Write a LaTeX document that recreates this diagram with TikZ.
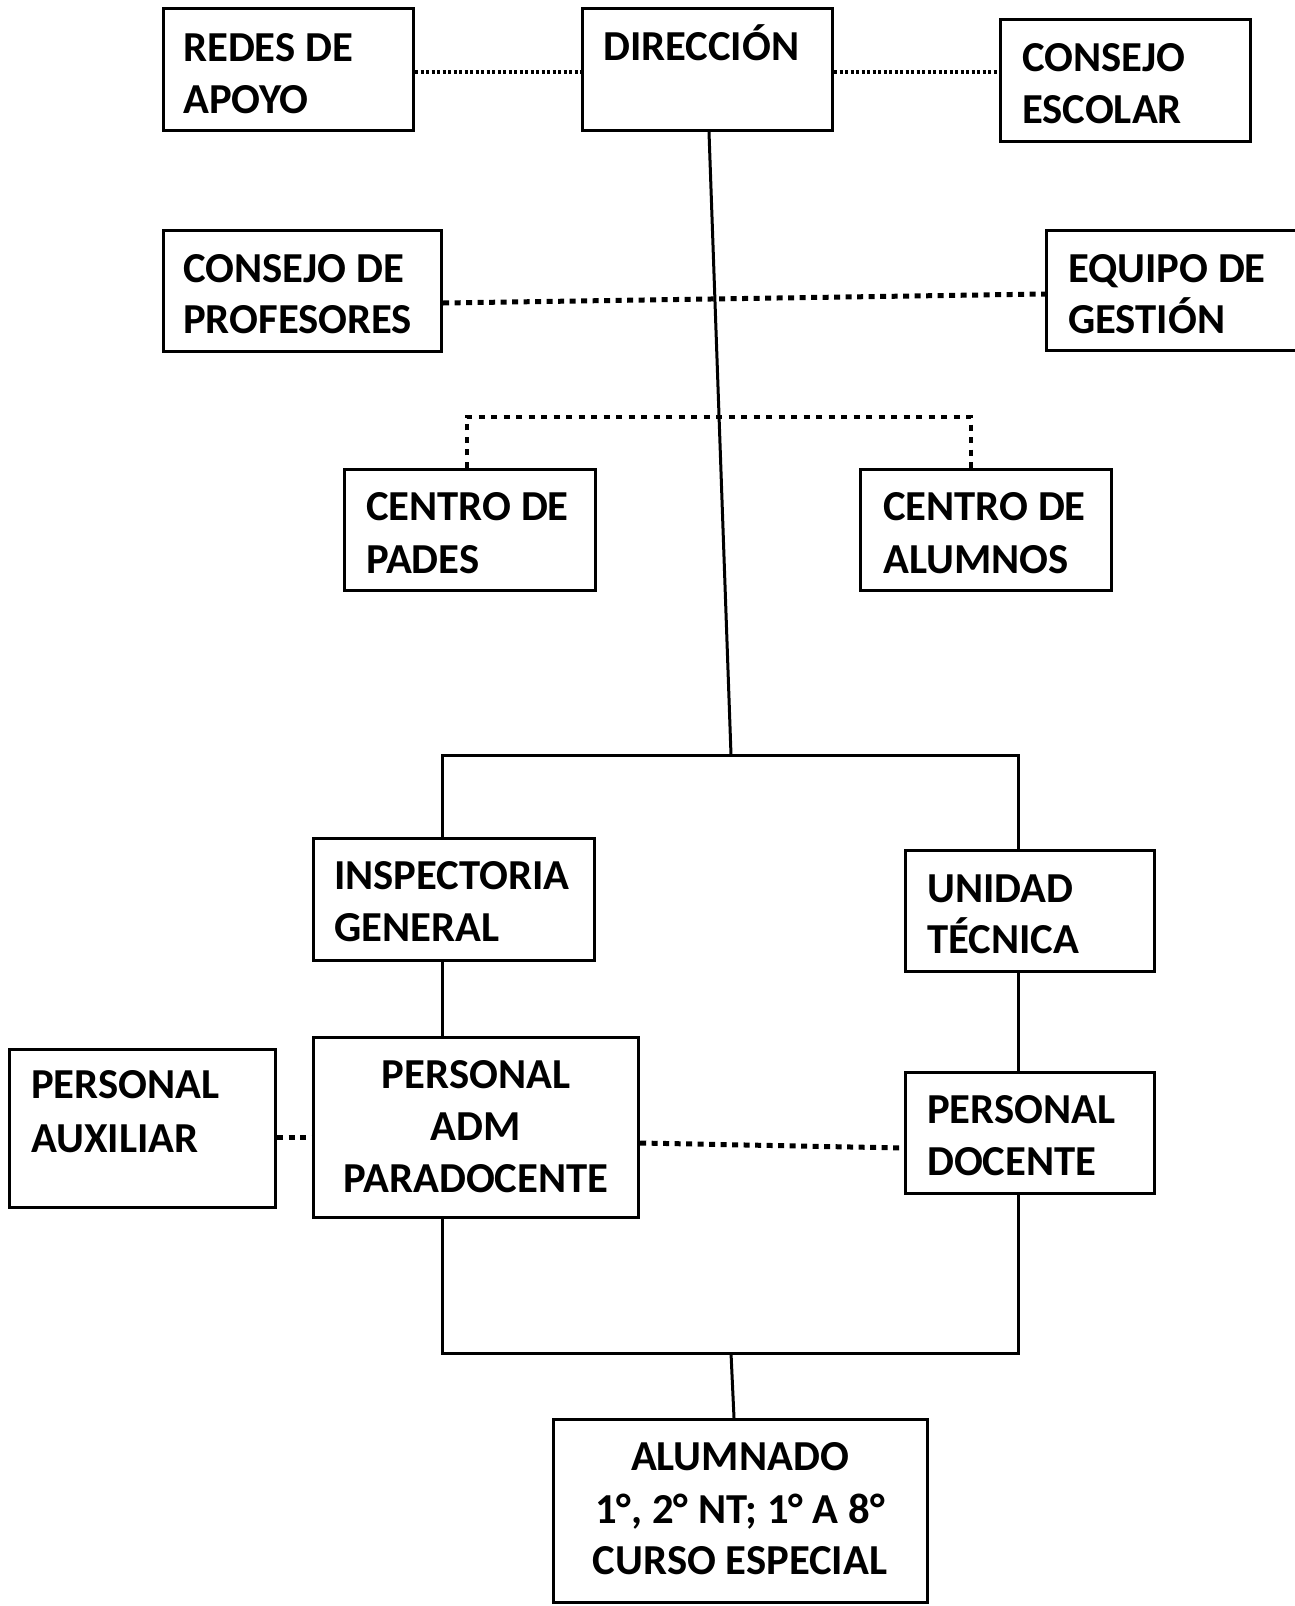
\documentclass[tikz,border=0pt]{standalone}
\usepackage{fontspec}
\setmainfont{Carlito}
\begin{document}
\begin{tikzpicture}[x=1pt,y=-1pt,
  box/.style={draw,line width=3.4pt,rectangle,inner sep=0pt},
  lbl/.style={anchor=base west,inner sep=0pt,font=\fontsize{42.7}{52}\selectfont\bfseries},
  clbl/.style={anchor=base,inner sep=0pt,font=\fontsize{42.7}{52}\selectfont\bfseries},
  link/.style={line width=3pt},
  dotthin/.style={line width=3.2pt,dash pattern=on 3pt off 2.5pt},
  dotthick/.style={line width=5pt,dash pattern=on 6pt off 5.5pt},
  dotbracket/.style={line width=4pt,dash pattern=on 6pt off 6.5pt}]
\useasboundingbox (0,0) rectangle (1295,1606);
\fill[white] (0,0) rectangle (1295,1606);

% boxes
\node[box,minimum width=250pt,minimum height=122pt] (redes) at (288.5,69.5) {};
\node[box,minimum width=250pt,minimum height=122pt] (dir) at (707.5,69.5) {};
\node[box,minimum width=250pt,minimum height=122pt] (escolar) at (1125.5,80.5) {};
\node[box,minimum width=278pt,minimum height=121pt] (prof) at (302.5,291) {};
\node[box,minimum width=273pt,minimum height=120pt] (equipo) at (1183,290.5) {};
\node[box,minimum width=251pt,minimum height=121pt] (padres) at (470,530) {};
\node[box,minimum width=251pt,minimum height=121pt] (alumnos) at (986,530) {};
\node[box,minimum width=281pt,minimum height=122pt] (insp) at (454,899.5) {};
\node[box,minimum width=249pt,minimum height=121pt] (unidad) at (1030,911) {};
\node[box,minimum width=266pt,minimum height=158pt] (aux) at (142.5,1128.5) {};
\node[box,minimum width=325pt,minimum height=180pt] (adm) at (476,1127.5) {};
\node[box,minimum width=249pt,minimum height=121pt] (docente) at (1030,1133) {};
\node[box,minimum width=374pt,minimum height=183pt] (alumnado) at (740.5,1511) {};

% texts
\node[lbl] (redes1) at (183,61) {REDES DE};
\node[lbl] (redes2) at (183,113) {APOYO};
\node[lbl] (dir1) at (603,60) {DIRECCIÓN};
\node[lbl] (esc1) at (1022,71) {CONSEJO};
\node[lbl] (esc2) at (1022,123) {ESCOLAR};
\node[lbl] (prof1) at (183,282) {CONSEJO DE};
\node[lbl] (prof2) at (183,333) {PROFESORES};
\node[lbl] (eq1) at (1068,282) {EQUIPO DE};
\node[lbl] (eq2) at (1068,333) {GESTIÓN};
\node[lbl] (pad1) at (366,520) {CENTRO DE};
\node[lbl] (pad2) at (366,573) {PADES};
\node[lbl] (alu1) at (883,520) {CENTRO DE};
\node[lbl] (alu2) at (883,573) {ALUMNOS};
\node[lbl] (insp1) at (334,889) {INSPECTORIA};
\node[lbl] (insp2) at (334,941) {GENERAL};
\node[lbl] (uni1) at (927,902) {UNIDAD};
\node[lbl] (uni2) at (927,953) {TÉCNICA};
\node[lbl] (aux1) at (31,1098) {PERSONAL};
\node[lbl] (aux2) at (31,1152) {AUXILIAR};
\node[clbl] (adm1) at (476,1088) {PERSONAL};
\node[clbl] (adm2) at (476,1140) {ADM};
\node[clbl] (adm3) at (476,1192) {PARADOCENTE};
\node[lbl] (doc1) at (927,1123) {PERSONAL};
\node[lbl] (doc2) at (927,1175) {DOCENTE};
\node[clbl] (al1) at (740,1470) {ALUMNADO};
\node[clbl] (al2) at (740,1523) {1°, 2° NT; 1° A 8°};
\node[clbl] (al3) at (740,1574) {CURSO ESPECIAL};

% junction coordinates
\coordinate (tj) at (731,755);
\coordinate (tl) at (442,755);
\coordinate (tr) at (1018,755);
\coordinate (bl) at (442,1353);
\coordinate (br) at (1018,1353);
\coordinate (bj) at (731,1353);
\coordinate (kl) at (467,417);
\coordinate (kr) at (971,417);

% dotted connectors
\draw[dotthin] ([yshift=-2.5pt]redes.east) -- ([yshift=-2.5pt]dir.west);
\draw[dotthin] ([yshift=-2.5pt]dir.east) -- ([yshift=-2.5pt]dir.east -| escolar.west);
\draw[dotthick] ([yshift=-12pt]prof.east) -- ([yshift=-3.5pt]equipo.west);
\draw[dotbracket] (padres.north -| kl) -- (kl) -- (kr) -- (alumnos.north -| kr);
\draw[dotthick] ([yshift=-8.5pt]aux.east) -- ([yshift=-8.5pt]aux.east -| adm.west);
\draw[dotthick] ([yshift=-15.5pt]adm.east) -- ([yshift=-15pt]docente.west);

% solid connectors
\draw[link] ([xshift=1.5pt]dir.south) -- (tj);
\draw[link] (insp.north -| tl) -- (tl) -- (tr) -- (unidad.north -| tr);
\draw[link] (insp.south -| tl) -- (adm.north -| tl);
\draw[link] (unidad.south -| tr) -- (docente.north -| tr);
\draw[link] (adm.south -| bl) -- (bl) -- (br) -- (docente.south -| br);
\draw[link] (bj) -- ([xshift=-6.5pt]alumnado.north);
\end{tikzpicture}
\end{document}
